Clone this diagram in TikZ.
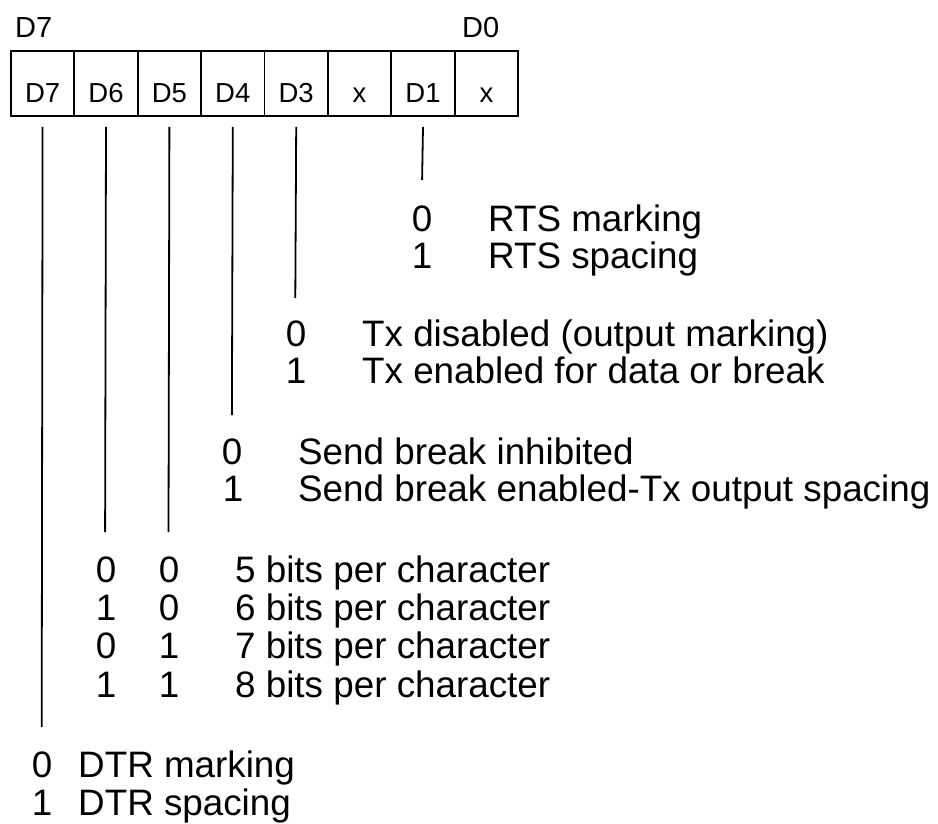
\documentclass[tikz,border=0pt]{standalone}
\usepackage{fontspec}
\setmainfont{Liberation Sans}
\begin{document}
\begin{tikzpicture}[x=1pt,y=-1pt,
  cell/.style={draw, line width=1.8pt, minimum width=63.4pt, minimum height=65pt, inner sep=0pt,
    font=\fontsize{27.5}{30}\selectfont, text height=38pt, text depth=0pt, anchor=north west},
  toplbl/.style={font=\fontsize{29}{32}\selectfont, inner sep=0pt, anchor=base west},
  lbl/.style={font=\fontsize{36.8}{40}\selectfont, inner sep=0pt, anchor=base west},
  dig/.style={font=\fontsize{36.8}{40}\selectfont, inner sep=0pt, anchor=base},
  wire/.style={line width=1.8pt}]
\useasboundingbox (0,0) rectangle (938,823);

% register cells
\node[cell] (c7) at (10,50) {D7};
\node[cell] (c6) at (73.4,50) {D6};
\node[cell] (c5) at (136.8,50) {D5};
\node[cell] (c4) at (200.2,50) {D4};
\node[cell] (c3) at (263.6,50) {D3};
\node[cell] (c2) at (327.0,50) {x};
\node[cell] (c1) at (390.4,50) {D1};
\node[cell] (c0) at (453.8,50) {x};

\node[toplbl] (t7) at (15,37) {D7};
\node[toplbl] (t0) at (462,37) {D0};

% line ends
\coordinate (e7) at (41.7,727);
\coordinate (e6) at (105.1,532);
\coordinate (e5) at (168.5,532);
\coordinate (e4) at (231.9,415);
\coordinate (e3) at (295.3,298);
\coordinate (e1) at (422.1,180);

\draw[wire] ([yshift=-10pt]c7.south) -- (e7);
\draw[wire] ([yshift=-10pt]c6.south) -- (e6);
\draw[wire] ([yshift=-10pt]c5.south) -- (e5);
\draw[wire] ([yshift=-10pt]c4.south) -- (e4);
\draw[wire] ([yshift=-10pt]c3.south) -- (e3);
\draw[wire] ([yshift=-10pt]c1.south) -- (e1);

% D1: RTS
\node[dig] (r0) at (422.1,231) {0};
\node[lbl] (r0t) at (488,231) {RTS marking};
\node[dig] (r1) at (422.1,268.5) {1};
\node[lbl] (r1t) at (488,268.5) {RTS spacing};

% D3: Tx
\node[dig] (x0) at (296,346) {0};
\node[lbl] (x0t) at (362,346) {Tx disabled (output marking)};
\node[dig] (x1) at (296,383) {1};
\node[lbl] (x1t) at (362,383) {Tx enabled for data or break};

% D4: Send break
\node[dig] (s0) at (232,464) {0};
\node[lbl] (s0t) at (298,464) {Send break inhibited};
\node[dig] (s1) at (233,501) {1};
\node[lbl] (s1t) at (298,501) {Send break enabled-Tx output spacing};

% D6 D5: bits per character
\node[dig] (b6a) at (106,582) {0};
\node[dig] (b5a) at (169,582) {0};
\node[lbl] (ba) at (235,582) {5 bits per character};
\node[dig] (b6b) at (106,620) {1};
\node[dig] (b5b) at (169,620) {0};
\node[lbl] (bb) at (235,620) {6 bits per character};
\node[dig] (b6c) at (106,658) {0};
\node[dig] (b5c) at (169,658) {1};
\node[lbl] (bc) at (235,658) {7 bits per character};
\node[dig] (b6d) at (106,697) {1};
\node[dig] (b5d) at (169,697) {1};
\node[lbl] (bd) at (235,697) {8 bits per character};

% D7: DTR
\node[dig] (d0) at (42,777.5) {0};
\node[lbl] (d0t) at (78,777.5) {DTR marking};
\node[dig] (d1) at (42,815) {1};
\node[lbl] (d1t) at (78,815) {DTR spacing};
\end{tikzpicture}
\end{document}
